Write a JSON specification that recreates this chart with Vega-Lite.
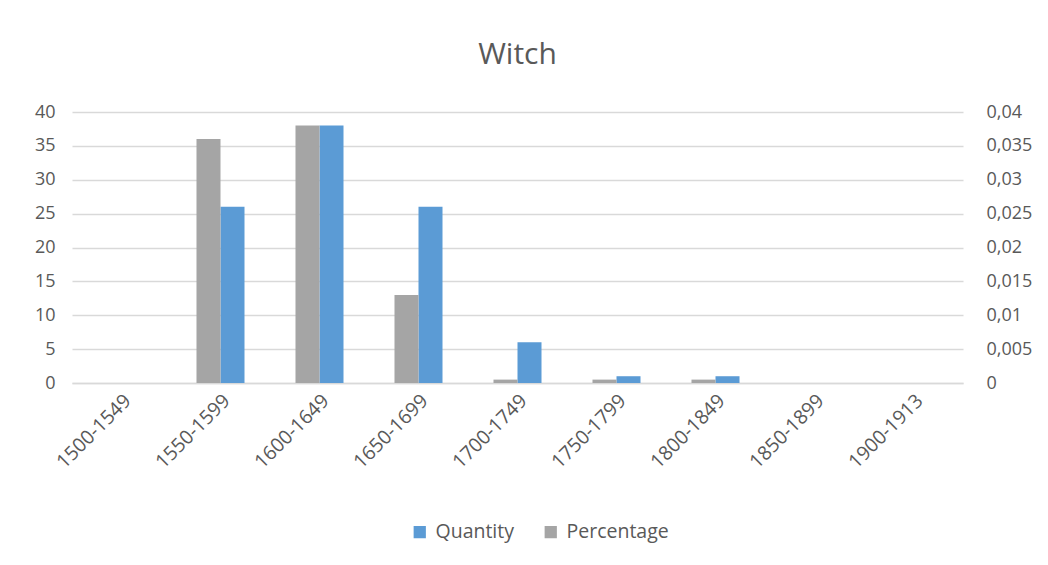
{
  "$schema": "https://vega.github.io/schema/vega-lite/v6.json",
  "autosize": "none",
  "width": 891,
  "height": 271,
  "padding": {"left": 72, "top": 112, "right": 85, "bottom": 182},
  "background": "white",
  "title": {
    "text": "Witch",
    "fontSize": 30,
    "font": "Open Sans",
    "fontWeight": "normal",
    "color": "#595959",
    "offset": 33
  },
  "data": {
    "values": [
      {"period": "1500-1549", "series": "Quantity", "value": 0},
      {"period": "1550-1599", "series": "Quantity", "value": 26},
      {"period": "1600-1649", "series": "Quantity", "value": 38},
      {"period": "1650-1699", "series": "Quantity", "value": 26},
      {"period": "1700-1749", "series": "Quantity", "value": 6},
      {"period": "1750-1799", "series": "Quantity", "value": 1},
      {"period": "1800-1849", "series": "Quantity", "value": 1},
      {"period": "1850-1899", "series": "Quantity", "value": 0},
      {"period": "1900-1913", "series": "Quantity", "value": 0},
      {"period": "1500-1549", "series": "Percentage", "value": 0},
      {"period": "1550-1599", "series": "Percentage", "value": 0.036},
      {"period": "1600-1649", "series": "Percentage", "value": 0.038},
      {"period": "1650-1699", "series": "Percentage", "value": 0.013},
      {"period": "1700-1749", "series": "Percentage", "value": 0.0005},
      {"period": "1750-1799", "series": "Percentage", "value": 0.0005},
      {"period": "1800-1849", "series": "Percentage", "value": 0.0005},
      {"period": "1850-1899", "series": "Percentage", "value": 0},
      {"period": "1900-1913", "series": "Percentage", "value": 0}
    ]
  },
  "encoding": {
    "x": {
      "field": "period",
      "type": "nominal",
      "sort": null,
      "title": null,
      "scale": {"paddingInner": 0.515, "paddingOuter": 0.2575},
      "axis": {
        "labelAngle": -45,
        "labelFontSize": 19.5,
        "labelFont": "Open Sans",
        "labelColor": "#595959",
        "ticks": false,
        "domainColor": "#d9d9d9",
        "domainWidth": 1.3,
        "labelPadding": 8,
        "grid": false
      }
    },
    "xOffset": {
      "field": "series",
      "type": "nominal",
      "scale": {"domain": ["Percentage", "Quantity"], "paddingInner": 0, "paddingOuter": 0}
    },
    "color": {
      "field": "series",
      "type": "nominal",
      "scale": {"domain": ["Quantity", "Percentage"], "range": ["#5b9bd5", "#a5a5a5"]},
      "legend": {
        "orient": "none",
        "legendX": 338,
        "legendY": 410,
        "direction": "horizontal",
        "title": null,
        "symbolType": "square",
        "symbolSize": 150,
        "symbolStrokeWidth": 0,
        "labelFontSize": 19.5,
        "labelFont": "Open Sans",
        "labelColor": "#595959",
        "labelOffset": 6,
        "columnPadding": 26
      }
    }
  },
  "layer": [
    {
      "transform": [{"filter": "datum.series === 'Quantity'"}],
      "mark": {"type": "bar"},
      "encoding": {
        "y": {
          "field": "value",
          "type": "quantitative",
          "title": null,
          "scale": {"domain": [0, 40], "nice": false},
          "axis": {
            "orient": "left",
            "values": [0, 5, 10, 15, 20, 25, 30, 35, 40],
            "labelFontSize": 18,
            "labelFont": "Open Sans",
            "labelColor": "#595959",
            "labelPadding": 17,
            "ticks": false,
            "domain": false,
            "grid": true,
            "gridColor": "#d9d9d9",
            "gridWidth": 1.3
          }
        }
      }
    },
    {
      "transform": [{"filter": "datum.series === 'Percentage'"}],
      "mark": {"type": "bar"},
      "encoding": {
        "y": {
          "field": "value",
          "type": "quantitative",
          "title": null,
          "scale": {"domain": [0, 0.04], "nice": false},
          "axis": {
            "orient": "right",
            "values": [0, 0.005, 0.01, 0.015, 0.02, 0.025, 0.03, 0.035, 0.04],
            "labelExpr": "replace(format(datum.value, '~g'), '.', ',')",
            "labelFontSize": 18,
            "labelFont": "Open Sans",
            "labelColor": "#595959",
            "labelPadding": 23,
            "ticks": false,
            "domain": false,
            "grid": false
          }
        }
      }
    }
  ],
  "resolve": {"scale": {"y": "independent"}},
  "config": {"view": {"stroke": null}}
}
